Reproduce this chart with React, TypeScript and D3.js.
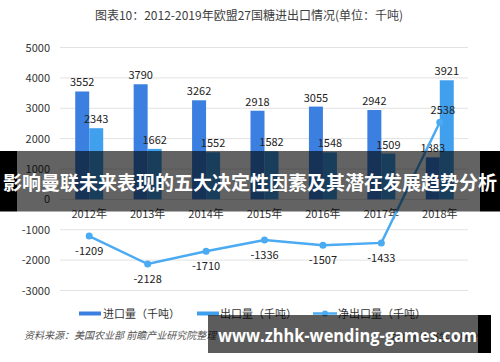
import React, { useRef, useEffect } from "react";
import * as d3 from "d3";

const years = ["2012年", "2013年", "2014年", "2015年", "2016年", "2017年", "2018年"];
const imports = [3552, 3790, 3262, 2918, 3055, 2942, 1383];
const exports = [2343, 1662, 1552, 1582, 1548, 1509, 3921];
const netExports = [-1209, -2128, -1710, -1336, -1507, -1433, 2538];
const yTicks = [5000, 4000, 3000, 2000, 1000, 0, -1000, -2000, -3000];

const IMPORT_COLOR = "#3b80e0";
const EXPORT_COLOR = "#41a0ee";
const NET_COLOR = "#4aaaf2";
const FONT = "'Noto Sans CJK SC', 'Noto Sans', sans-serif";

const App = () => {
  const svgRef = useRef<SVGSVGElement>(null);
  const width = 500;
  const height = 362;

  useEffect(() => {
    const svg = d3.select(svgRef.current);
    svg.selectAll("*").remove();
    svg.style("font-family", FONT);

    // title
    svg.append("text")
      .attr("x", 249).attr("y", 20)
      .attr("text-anchor", "middle")
      .attr("font-size", 12).attr("fill", "#404040")
      .text("图表10：2012-2019年欧盟27国糖进出口情况(单位：千吨)");

    const x = d3.scaleBand().domain(years).range([60, 469]);
    const y = d3.scaleLinear().domain([-3000, 5000]).range([290.5, 47.5]);
    const barW = 14;

    // grid
    svg.append("g")
      .selectAll("line")
      .data(yTicks)
      .join("line")
      .attr("x1", 60).attr("x2", 468)
      .attr("y1", (d) => y(d)).attr("y2", (d) => y(d))
      .attr("stroke", "#e2e2e2").attr("stroke-width", 1);

    // y labels
    svg.append("g")
      .selectAll("text")
      .data(yTicks)
      .join("text")
      .attr("x", 50).attr("y", (d) => y(d) + 4)
      .attr("text-anchor", "end")
      .attr("font-size", 11).attr("fill", "#333")
      .text((d) => d);

    const cx = (i: number) => (x(years[i]) as number) + x.bandwidth() / 2;

    // bars
    svg.append("g")
      .selectAll("rect")
      .data(imports)
      .join("rect")
      .attr("x", (d, i) => cx(i) - barW)
      .attr("y", (d) => y(d))
      .attr("width", barW)
      .attr("height", (d) => y(0) - y(d))
      .attr("fill", IMPORT_COLOR);

    svg.append("g")
      .selectAll("rect")
      .data(exports)
      .join("rect")
      .attr("x", (d, i) => cx(i))
      .attr("y", (d) => y(d))
      .attr("width", barW)
      .attr("height", (d) => y(0) - y(d))
      .attr("fill", EXPORT_COLOR);

    // bar labels
    svg.append("g")
      .selectAll("text")
      .data(imports)
      .join("text")
      .attr("x", (d, i) => cx(i) - barW / 2)
      .attr("y", (d) => y(d) - 5)
      .attr("text-anchor", "middle")
      .attr("font-size", 11).attr("fill", "#222")
      .text((d) => d);

    svg.append("g")
      .selectAll("text")
      .data(exports)
      .join("text")
      .attr("x", (d, i) => cx(i) + barW / 2)
      .attr("y", (d) => y(d) - 5)
      .attr("text-anchor", "middle")
      .attr("font-size", 11).attr("fill", "#222")
      .text((d) => d);

    // x labels
    svg.append("g")
      .selectAll("text")
      .data(years)
      .join("text")
      .attr("x", (d, i) => cx(i))
      .attr("y", 218)
      .attr("text-anchor", "middle")
      .attr("font-size", 11).attr("fill", "#333")
      .text((d) => d);

    // net export line
    const line = d3.line<number>()
      .x((d, i) => cx(i))
      .y((d) => y(d));

    svg.append("path")
      .datum(netExports)
      .attr("d", line)
      .attr("fill", "none")
      .attr("stroke", NET_COLOR)
      .attr("stroke-width", 2.5);

    svg.append("g")
      .selectAll("circle")
      .data(netExports)
      .join("circle")
      .attr("cx", (d, i) => cx(i))
      .attr("cy", (d) => y(d))
      .attr("r", 3.5)
      .attr("fill", NET_COLOR);

    svg.append("g")
      .selectAll("text")
      .data(netExports)
      .join("text")
      .attr("x", (d, i) => cx(i) + (d > 0 ? 3 : 0))
      .attr("y", (d) => (d > 0 ? y(d) - 8 : y(d) + 19))
      .attr("text-anchor", "middle")
      .attr("font-size", 11).attr("fill", "#222")
      .text((d) => d);

    // legend
    const lg = svg.append("g").attr("font-size", 11).attr("fill", "#333");
    lg.append("rect").attr("x", 79).attr("y", 311.5).attr("width", 22).attr("height", 4).attr("fill", IMPORT_COLOR);
    lg.append("text").attr("x", 103).attr("y", 317.5).text("进口量（千吨）");
    lg.append("rect").attr("x", 197).attr("y", 311.5).attr("width", 22).attr("height", 4).attr("fill", EXPORT_COLOR);
    lg.append("text").attr("x", 220).attr("y", 317.5).text("出口量（千吨）");
    lg.append("line").attr("x1", 313).attr("x2", 337).attr("y1", 313.5).attr("y2", 313.5)
      .attr("stroke", NET_COLOR).attr("stroke-width", 2.5);
    lg.append("circle").attr("cx", 325).attr("cy", 313.5).attr("r", 3).attr("fill", NET_COLOR);
    lg.append("text").attr("x", 338).attr("y", 317.5).text("净出口量（千吨）");

    // source
    svg.append("text")
      .attr("x", 24).attr("y", 339)
      .attr("font-size", 10).attr("font-style", "italic").attr("fill", "#555")
      .text("资料来源：美国农业部 前瞻产业研究院整理");
    svg.append("text")
      .attr("x", 478).attr("y", 341)
      .attr("text-anchor", "end")
      .attr("font-size", 10).attr("fill", "#555")
      .text("@前瞻经济学人APP");

    // overlay banner
    svg.append("rect").attr("x", 0).attr("y", 151).attr("width", 17).attr("height", 60.5).attr("fill", "#000");
    svg.append("rect").attr("x", 17).attr("y", 151).attr("width", 463).attr("height", 60.5)
      .attr("fill", "#000").attr("fill-opacity", 0.61);
    svg.append("rect").attr("x", 480).attr("y", 151).attr("width", 20).attr("height", 60.5).attr("fill", "#000");
    svg.append("text")
      .attr("x", 250).attr("y", 190)
      .attr("text-anchor", "middle")
      .attr("font-size", 19).attr("font-weight", "bold").attr("fill", "#fff")
      .attr("textLength", 494).attr("lengthAdjust", "spacingAndGlyphs")
      .text("影响曼联未来表现的五大决定性因素及其潜在发展趋势分析");

    // overlay url box
    svg.append("rect").attr("x", 208).attr("y", 315).attr("width", 270).attr("height", 38)
      .attr("fill", "#000").attr("fill-opacity", 0.64);
    svg.append("rect").attr("x", 478).attr("y", 315).attr("width", 13).attr("height", 38).attr("fill", "#000");
    svg.append("text")
      .attr("x", 218).attr("y", 342)
      .attr("font-family", "'Open Sans', 'Noto Sans', sans-serif")
      .attr("font-size", 17).attr("font-weight", "bold").attr("fill", "#fff")
      .attr("textLength", 259).attr("lengthAdjust", "spacingAndGlyphs")
      .text("www.zhhk-wending-games.com");
  }, []);

  return (
    <svg
      ref={svgRef}
      width={width}
      height={height}
      style={{ position: "absolute", left: 0, top: 0, background: "#fff" }}
    />
  );
};

export default App;
